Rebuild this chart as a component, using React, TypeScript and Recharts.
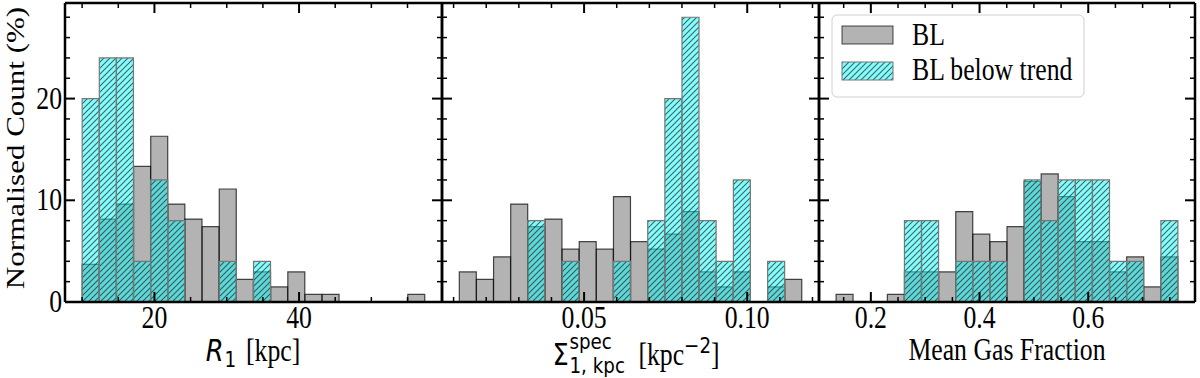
import { BarChart, Bar, XAxis, YAxis, Legend } from 'recharts'

const W = 1200
const H = 378
const PLOT_TOP = 3
const PLOT_BOTTOM = 302
const SERIF = '"Liberation Serif", "Times New Roman", serif'
const SANS = '"DejaVu Sans", sans-serif'
const SQUEEZE = 0.83
const FONT = 31

const seriesNames = ['BL', 'BL below trend']

// R1 [kpc] : bin centres and normalised counts (%)
const r1Bins = [11.19, 13.56, 15.93, 18.3, 20.67, 23.04, 25.41, 27.78, 30.15, 32.52, 34.89, 37.26, 39.63, 42.0, 44.37, 46.74, 49.11, 51.48, 53.85, 56.22]
const r1BL = [3.7, 8.15, 9.63, 13.33, 16.3, 9.63, 8.15, 7.41, 11.11, 2.22, 2.96, 1.48, 2.96, 0.74, 0.74, 0, 0, 0, 0, 0.74]
const r1Below = [20, 24, 24, 4, 12, 8, 0, 0, 4, 0, 4, 0, 0, 0, 0, 0, 0, 0, 0, 0]
const r1Domain = [7.63, 59.77]
const r1Major = [20, 40]
const r1Minor = [10, 15, 25, 30, 35, 45, 50, 55]

// Sigma_1kpc^spec [kpc^-2]
const sigBins = [0.01438, 0.01963, 0.02488, 0.03013, 0.03538, 0.04063, 0.04588, 0.05113, 0.05638, 0.06163, 0.06688, 0.07213, 0.07738, 0.08263, 0.08788, 0.09313, 0.09838, 0.10363, 0.10888, 0.11413]
const sigBL = [2.96, 2.22, 4.44, 9.63, 7.41, 8.15, 5.19, 5.93, 5.19, 10.37, 5.93, 5.19, 6.67, 8.89, 2.96, 1.48, 2.96, 0, 1.48, 2.22]
const sigBelow = [0, 0, 0, 0, 8, 0, 4, 0, 0, 4, 0, 8, 20, 28, 8, 4, 12, 0, 4, 0]
const sigDomain = [0.00645, 0.122]
const sigMajor = [0.05, 0.1]
const sigMinor = [0.01, 0.02, 0.03, 0.04, 0.06, 0.07, 0.08, 0.09, 0.11, 0.12]

// mean gas fraction
const gasBins = [0.1517, 0.1832, 0.2146, 0.2461, 0.2775, 0.309, 0.3404, 0.3719, 0.4033, 0.4348, 0.4662, 0.4977, 0.5291, 0.5606, 0.592, 0.6235, 0.6549, 0.6864, 0.7178, 0.7493]
const gasBL = [0.74, 0, 0, 0.74, 2.96, 2.96, 2.96, 8.89, 6.67, 5.93, 7.41, 11.85, 12.59, 10.37, 5.93, 5.93, 2.96, 4.44, 1.48, 4.44]
const gasBelow = [0, 0, 0, 0, 8, 8, 0, 4, 4, 4, 0, 12, 8, 12, 12, 12, 4, 4, 0, 8]
const gasDomain = [0.1046, 0.7964]
const gasMajor = [0.2, 0.4, 0.6]
const gasMinor = [0.15, 0.25, 0.3, 0.35, 0.45, 0.5, 0.55, 0.65, 0.7, 0.75]

const yMax = 29.4
const yMajor = [0, 10, 20]
const yMinor = [2, 4, 6, 8, 12, 14, 16, 18, 22, 24, 26, 28]

const frameLine = { stroke: '#000', strokeWidth: 2.5 }

const isMajor = (v: number, majors: number[]) => majors.some((m) => Math.abs(m - v) < 1e-9)

function XTick(props: any) {
  const { x, y, payload, majors, side, fmt } = props
  const major = isMajor(payload.value, majors)
  const len = major ? 10 : 5
  const dir = side === 'bottom' ? -1 : 1
  return (
    <g>
      <line x1={x} x2={x} y1={y} y2={y + dir * len} stroke="#000" strokeWidth={major ? 2 : 1.5} />
      {side === 'bottom' && major && (
        <text transform={`translate(${x},${y + 26}) scale(${SQUEEZE},1)`} textAnchor="middle" fontFamily={SERIF} fontSize={FONT} fill="#000">
          {fmt(payload.value)}
        </text>
      )}
    </g>
  )
}

function YTick(props: any) {
  const { x, y, payload, side, labels } = props
  const major = isMajor(payload.value, yMajor)
  const len = major ? 10 : 5
  const dir = side === 'left' ? 1 : -1
  return (
    <g>
      <line x1={x} x2={x + dir * len} y1={y} y2={y} stroke="#000" strokeWidth={major ? 2 : 1.5} />
      {labels && major && (
        <text transform={`translate(${x - 3},${y + 10}) scale(${SQUEEZE},1)`} textAnchor="end" fontFamily={SERIF} fontSize={FONT} fill="#000">
          {payload.value}
        </text>
      )}
    </g>
  )
}

function HatchPattern({ id }: { id: string }) {
  return (
    <pattern id={id} patternUnits="userSpaceOnUse" width={6} height={6}>
      <rect width={6} height={6} fill="#00ffff" fillOpacity={0.5} />
      <path d="M-1,1 l2,-2 M0,6 l6,-6 M5,7 l2,-2" stroke="#3a2a2a" strokeOpacity={0.75} strokeWidth={1.1} />
    </pattern>
  )
}

function LegendBox() {
  return (
    <svg width={254} height={84}>
      <defs>
        <HatchPattern id="hatch-legend" />
      </defs>
      <rect x={1} y={1} width={252} height={82} rx={5} fill="#fff" fillOpacity={0.8} stroke="#d0d0d0" />
      <rect x={11} y={12} width={51} height={18} fill="#808080" fillOpacity={0.6} stroke="#000" strokeOpacity={0.7} />
      <rect x={11} y={48} width={51} height={18} fill="url(#hatch-legend)" stroke="#777" />
      {seriesNames.map((n, i) => (
        <text key={n} transform={`translate(81,${31 + i * 35}) scale(${SQUEEZE},1)`} fontFamily={SERIF} fontSize={FONT} fill="#000">
          {n}
        </text>
      ))}
    </svg>
  )
}

interface PanelProps {
  id: string
  left: number
  right: number
  bins: number[]
  bl: number[]
  below: number[]
  domain: number[]
  major: number[]
  minor: number[]
  fmt: (v: number) => string
  yLabels?: boolean
  legend?: boolean
}

function Panel({ id, left, right, bins, bl, below, domain, major, minor, fmt, yLabels, legend }: PanelProps) {
  const data = bins.map((c, i) => ({ c, bl: bl[i], below: below[i] }))
  const xTicks = [...major, ...minor].sort((a, b) => a - b)
  const yTicks = [...yMajor, ...yMinor].sort((a, b) => a - b)
  // axes are 1px thick so they still render; margins take that pixel back
  return (
    <div style={{ position: 'absolute', left: 0, top: 0 }}>
      <BarChart
        width={W}
        height={H}
        data={data}
        margin={{ top: PLOT_TOP - 1, bottom: H - PLOT_BOTTOM - 1, left: left - 1, right: W - right - 1 }}
        barCategoryGap={0}
        barGap={0}
      >
        <defs>
          <HatchPattern id={`hatch-${id}`} />
        </defs>
        <XAxis
          xAxisId="bottom"
          dataKey="c"
          type="number"
          domain={domain}
          allowDataOverflow
          ticks={xTicks}
          interval={0}
          height={1}
          tickSize={0}
          tickMargin={0}
          tickLine={false}
          axisLine={frameLine}
          tick={(p: any) => <XTick {...p} majors={major} side="bottom" fmt={fmt} />}
        />
        <XAxis
          xAxisId="top"
          orientation="top"
          dataKey="c"
          type="number"
          domain={domain}
          allowDataOverflow
          ticks={xTicks}
          interval={0}
          height={1}
          tickSize={0}
          tickMargin={0}
          tickLine={false}
          axisLine={frameLine}
          tick={(p: any) => <XTick {...p} majors={major} side="top" fmt={fmt} />}
        />
        <XAxis xAxisId="bl" dataKey="c" type="number" domain={domain} allowDataOverflow hide height={0} />
        <XAxis xAxisId="below" dataKey="c" type="number" domain={domain} allowDataOverflow hide height={0} />
        <YAxis
          yAxisId="y"
          type="number"
          domain={[0, yMax]}
          allowDataOverflow
          ticks={yTicks}
          interval={0}
          width={1}
          tickSize={0}
          tickMargin={0}
          tickLine={false}
          axisLine={frameLine}
          tick={(p: any) => <YTick {...p} side="left" labels={yLabels} />}
        />
        <YAxis
          yAxisId="yr"
          orientation="right"
          type="number"
          domain={[0, yMax]}
          allowDataOverflow
          ticks={yTicks}
          interval={0}
          width={1}
          tickSize={0}
          tickMargin={0}
          tickLine={false}
          axisLine={frameLine}
          tick={(p: any) => <YTick {...p} side="right" />}
        />
        <Bar xAxisId="bl" yAxisId="y" dataKey="bl" name={seriesNames[0]} fill="#808080" fillOpacity={0.6} stroke="#000" strokeOpacity={0.7} strokeWidth={1.2} isAnimationActive={false} />
        <Bar xAxisId="below" yAxisId="y" dataKey="below" name={seriesNames[1]} fill={`url(#hatch-${id})`} stroke="#777" strokeWidth={1.2} isAnimationActive={false} />
        {legend && (
          <Legend
            layout="vertical"
            align="center"
            verticalAlign="middle"
            content={() => <LegendBox />}
            wrapperStyle={{ left: 831, top: 14, width: 254, height: 84 }}
          />
        )}
      </BarChart>
    </div>
  )
}

const labelBase = {
  position: 'absolute' as const,
  fontFamily: SERIF,
  fontSize: FONT,
  lineHeight: '30px',
  whiteSpace: 'nowrap' as const,
  color: '#000',
}

const stackBox = { display: 'inline-block', position: 'relative' as const, height: '1em', fontFamily: SANS }
const smallSans = { position: 'absolute' as const, left: 1, fontFamily: SANS, fontSize: 22, lineHeight: '22px' }

export default function App() {
  return (
    <div style={{ position: 'absolute', left: 0, top: 0, width: W, height: H, background: '#fff', overflow: 'hidden' }}>
      <Panel id="r1" left={65} right={442} bins={r1Bins} bl={r1BL} below={r1Below} domain={r1Domain} major={r1Major} minor={r1Minor} fmt={(v) => String(v)} yLabels />
      <Panel id="sig" left={442} right={819} bins={sigBins} bl={sigBL} below={sigBelow} domain={sigDomain} major={sigMajor} minor={sigMinor} fmt={(v) => v.toFixed(2)} />
      <Panel id="gas" left={819} right={1195} bins={gasBins} bl={gasBL} below={gasBelow} domain={gasDomain} major={gasMajor} minor={gasMinor} fmt={(v) => v.toFixed(1)} legend />

      <div style={{ ...labelBase, left: 16, top: 148, transform: `translate(-50%,-50%) scale(${SQUEEZE},1) rotate(-90deg)` }}>
        Normalised Count (%)
      </div>

      <div style={{ ...labelBase, left: 253, top: 335, transform: `translateX(-50%) scaleX(${SQUEEZE})` }}>
        <span style={{ fontFamily: SANS, fontStyle: 'italic' }}>R</span>
        <span style={{ fontFamily: SANS, fontSize: 22, position: 'relative', top: 6, marginLeft: 1, marginRight: 12 }}>1</span>[kpc]
      </div>

      <div style={{ ...labelBase, left: 636, top: 334, transform: `translateX(-50%) scaleX(${SQUEEZE})` }}>
        <span style={{ fontFamily: SANS }}>Σ</span>
        <span style={{ ...stackBox, width: 84 }}>
          <span style={{ ...smallSans, top: -3 }}>spec</span>
          <span style={{ ...smallSans, top: 21 }}>1, kpc</span>
        </span>
        [kpc<span style={{ fontFamily: SANS, fontSize: 22, position: 'relative', top: -12 }}>−2</span>]
      </div>

      <div style={{ ...labelBase, left: 1007, top: 335, transform: `translateX(-50%) scaleX(${SQUEEZE})` }}>
        Mean Gas Fraction
      </div>
    </div>
  )
}
